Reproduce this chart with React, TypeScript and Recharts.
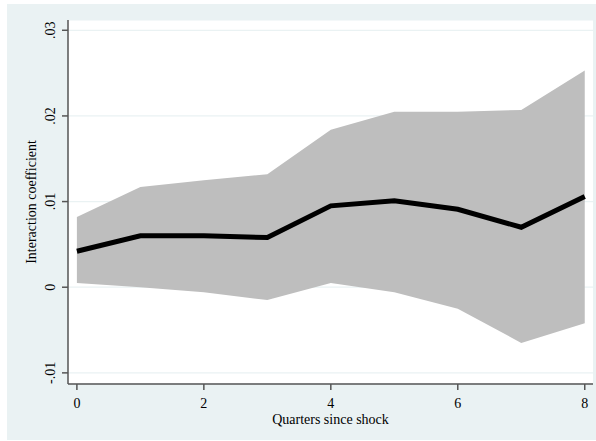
import {
  ComposedChart,
  CartesianGrid,
  XAxis,
  YAxis,
  Area,
  Line,
} from "recharts";

// quarters after the shock
const quarters = [0, 1, 2, 3, 4, 5, 6, 7, 8];
// point estimates of the interaction coefficient
const coefficient = [0.0042, 0.006, 0.006, 0.0058, 0.0095, 0.0101, 0.0091, 0.007, 0.0106];
// confidence band bounds
const upperBound = [0.0082, 0.0117, 0.0125, 0.0132, 0.0184, 0.0205, 0.0205, 0.0207, 0.0253];
const lowerBound = [0.0005, 0.0, -0.0006, -0.0015, 0.0005, -0.0006, -0.0025, -0.0065, -0.0042];

const xTicks = [0, 2, 4, 6, 8];
const yTicks = [-0.01, 0, 0.01, 0.02, 0.03];

const data = quarters.map((q, i) => ({
  q,
  coef: coefficient[i],
  band: [lowerBound[i], upperBound[i]],
}));

const FONT = '"Liberation Serif", "DejaVu Serif", serif';
const AXIS = "#555555";

const fmtY = (v: number) => {
  if (v === 0) return "0";
  const s = v.toFixed(2);
  return s.replace("0.", ".");
};

const YTick = (props: any) => {
  const { x, y, payload } = props;
  return (
    <text
      x={x}
      y={y}
      transform={`rotate(-90 ${x} ${y})`}
      textAnchor="middle"
      fontFamily={FONT}
      fontSize={14}
      fill="#000"
    >
      {fmtY(payload.value)}
    </text>
  );
};

const YTitle = (props: any) => {
  const vb = props.viewBox;
  const cx = 36;
  const cy = vb.y + vb.height / 2;
  return (
    <text
      x={cx}
      y={cy}
      transform={`rotate(-90 ${cx} ${cy})`}
      textAnchor="middle"
      fontFamily={FONT}
      fontSize={14}
      fill="#000"
    >
      Interaction coefficient
    </text>
  );
};

export default function App() {
  return (
    <div style={{ position: "absolute", left: 0, top: 0, width: 596, height: 441 }}>
      <div
        style={{
          position: "absolute",
          left: 7,
          top: 4,
          width: 589,
          height: 436,
          background: "#EAF2F3",
        }}
      />
      <div style={{ position: "absolute", left: 0, top: 0 }}>
        <ComposedChart
          width={596}
          height={441}
          data={data}
          margin={{ top: 20, right: 3, left: 8, bottom: 17 }}
        >
          <CartesianGrid
            vertical={false}
            stroke="#EAF2F3"
            strokeWidth={1.2}
            fill="#ffffff"
            fillOpacity={1}
          />
          <XAxis
            dataKey="q"
            type="number"
            domain={[-0.14, 8.13]}
            ticks={xTicks}
            allowDataOverflow
            height={40}
            stroke={AXIS}
            strokeWidth={1.5}
            tickSize={6}
            tickMargin={8}
            tick={{ fontFamily: FONT, fontSize: 14, fill: "#000" }}
            label={{
              value: "Quarters since shock",
              position: "insideBottom",
              offset: 0,
              style: { fontFamily: FONT, fontSize: 14, fill: "#000" },
            }}
          />
          <YAxis
            type="number"
            domain={[-0.0113, 0.0312]}
            ticks={yTicks}
            allowDataOverflow
            width={60}
            stroke={AXIS}
            strokeWidth={1.5}
            tickSize={6}
            tickMargin={7}
            tick={<YTick />}
            label={<YTitle />}
          />
          <Area
            dataKey="band"
            type="linear"
            fill="#BEBEBE"
            fillOpacity={1}
            stroke="none"
            isAnimationActive={false}
            activeDot={false}
          />
          <Line
            dataKey="coef"
            type="linear"
            stroke="#000"
            strokeWidth={5}
            dot={false}
            isAnimationActive={false}
          />
        </ComposedChart>
      </div>
    </div>
  );
}
